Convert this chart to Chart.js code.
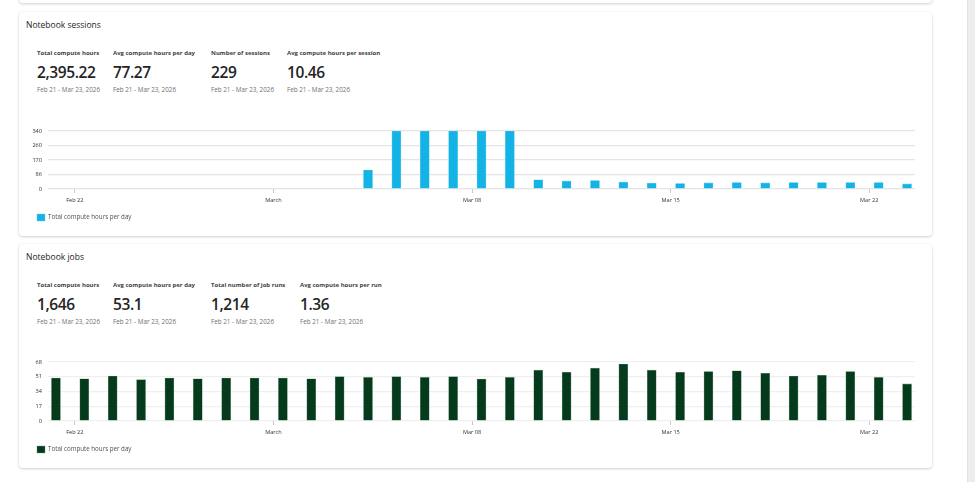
<!DOCTYPE html>
<html>
<head>
<meta charset="utf-8">
<script src="https://cdn.jsdelivr.net/npm/chart.js@4.4.1/dist/chart.umd.min.js"></script>
<style>
  body { margin: 0; background: #fff; font-family: "Open Sans", "Noto Sans", sans-serif; color: #242424; overflow: hidden; }
  .card { position: absolute; left: 19px; width: 913px; background: #fff; border-radius: 4px;
          box-shadow: 0 1px 3px rgba(0,0,0,0.18), 0 0 1px rgba(0,0,0,0.08); }
  .title { position: absolute; left: 7px; font-size: 8.5px; color: #242424; }
  .kpi { position: absolute; }
  .kpi .lbl { font-size: 6px; font-weight: 700; color: #424242; white-space: nowrap; }
  .kpi .val { font-size: 15.5px; font-weight: 600; color: #242424; margin-top: 6px; line-height: 18px; white-space: nowrap; letter-spacing: -0.4px; }
  .kpi .dt { font-size: 6.3px; color: #707070; margin-top: 4px; white-space: nowrap; }
  .chartbox { position: absolute; left: 1px; width: 897px; }
  .scroll { position: absolute; left: 967px; top: 0; width: 8px; height: 482px; background: #ededed; border-left: 1px solid #e2e2e2; }
</style>
</head>
<body>
<div class="card" style="top:-20px;height:23px;"></div>

<div class="card" style="top:12px;height:224px;">
  <div class="title" style="top:7px;">Notebook sessions</div>
  <div id="kpiSessions"></div>
  <div class="chartbox" style="top:108px;height:111px;"><canvas id="chartSessions"></canvas></div>
</div>

<div class="card" style="top:244px;height:224px;">
  <div class="title" style="top:7px;">Notebook jobs</div>
  <div id="kpiJobs"></div>
  <div class="chartbox" style="top:107px;height:112px;"><canvas id="chartJobs"></canvas></div>
</div>

<div class="scroll"></div>

<script>
// days Feb 21 - Mar 23, 2026
const days = ['Feb 21','Feb 22','Feb 23','Feb 24','Feb 25','Feb 26','Feb 27','Feb 28',
  'Mar 01','Mar 02','Mar 03','Mar 04','Mar 05','Mar 06','Mar 07','Mar 08','Mar 09','Mar 10',
  'Mar 11','Mar 12','Mar 13','Mar 14','Mar 15','Mar 16','Mar 17','Mar 18','Mar 19','Mar 20',
  'Mar 21','Mar 22','Mar 23'];

const sessionHours = [0,0,0,0,0,0,0,0,0,0,0,111,340,340,340,340,340,
  54,46,50,40,34,32,36,38,36,38,38,38,38,30];

const jobHours = [49.5,48.7,51.9,47.6,49.5,48.7,49.5,49.5,49.5,48.7,51.1,50.3,51.1,50.3,51.1,
  48.3,50.3,58.6,56.2,60.9,65.6,58.6,56.2,57.0,57.8,55.0,51.9,52.7,57.0,50.3,42.8];

// x axis ticks (day index -> label)
const xTickDays = [1, 8, 15, 22, 29];
const xTickLabels = ['Feb 22', 'March', 'Mar 08', 'Mar 15', 'Mar 22'];

const sessionYTicks = ['0', '86', '170', '260', '340'];
const jobYTicks = ['0', '17', '34', '51', '68'];

const kpiSessionLabels = ['Total compute hours', 'Avg compute hours per day', 'Number of sessions', 'Avg compute hours per session'];
const kpiSessionValues = ['2,395.22', '77.27', '229', '10.46'];
const kpiJobLabels = ['Total compute hours', 'Avg compute hours per day', 'Total number of job runs', 'Avg compute hours per run'];
const kpiJobValues = ['1,646', '53.1', '1,214', '1.36'];
const dateRange = 'Feb 21 - Mar 23, 2026';

const BAR_OFFSET = 8 / 24; // bars sit at 08:00 of each day

function buildKpis(el, labels, values, lefts, top){
  let html = '';
  labels.map((l, i) => {
    html += '<div class="kpi" style="left:' + lefts[i] + 'px;top:' + top + 'px">' +
      '<div class="lbl">' + l + '</div><div class="val">' + values[i] + '</div><div class="dt">' + dateRange + '</div></div>';
  });
  document.getElementById(el).innerHTML = html;
}

buildKpis('kpiSessions', kpiSessionLabels, kpiSessionValues, [18, 94, 192, 268], 37);
buildKpis('kpiJobs', kpiJobLabels, kpiJobValues, [18, 94, 192, 281], 37);

function montaGrafico(id, valores, cor, borda, maxY, yLabels, gridCor){
  const ctx = document.getElementById(id);
  return new Chart(ctx, {
    type: 'bar',
    data: {
      datasets: [{
        label: 'Total compute hours per day',
        data: valores.map((v, i) => ({ x: i + BAR_OFFSET, y: v })),
        backgroundColor: cor,
        borderColor: borda,
        borderWidth: { left: 0.6, right: 0.6, top: 0.6, bottom: 0 },
        barThickness: 9
      }]
    },
    options: {
      responsive: true,
      maintainAspectRatio: false,
      animation: false,
      layout: { padding: { top: 11, right: 2, left: 9, bottom: 0 } },
      plugins: {
        legend: {
          position: 'bottom',
          align: 'start',
          labels: {
            boxWidth: 8, boxHeight: 7, padding: 8,
            color: '#505050',
            font: { family: '"Open Sans", sans-serif', size: 6.2 }
          }
        },
        tooltip: { enabled: false }
      },
      scales: {
        x: {
          type: 'linear',
          offset: false,
          min: BAR_OFFSET - 0.28,
          max: 30 + BAR_OFFSET + 0.28,
          afterBuildTicks: (scale) => { scale.ticks = xTickDays.map(d => ({ value: d })); },
          afterFit: (scale) => { scale.height = 17; },
          ticks: {
            autoSkip: false, maxRotation: 0, padding: 4,
            color: '#333',
            font: { family: '"Open Sans", sans-serif', size: 5.6 },
            callback: (v) => xTickLabels[xTickDays.indexOf(v)]
          },
          grid: { offset: false, drawOnChartArea: false, drawTicks: true, tickLength: 4, color: '#c8c8c8' },
          border: { display: false }
        },
        y: {
          min: 0, max: maxY,
          afterFit: (scale) => { scale.width = 19; },
          afterBuildTicks: (scale) => { scale.ticks = yLabels.map((l, i) => ({ value: maxY / 4 * i })); },
          ticks: {
            padding: 6, color: '#333',
            font: { family: '"Open Sans", sans-serif', size: 5.6 },
            callback: (v, i) => yLabels[i]
          },
          grid: { color: gridCor, lineWidth: 1.3, drawTicks: false },
          border: { display: false }
        }
      }
    }
  });
}

montaGrafico('chartSessions', sessionHours, '#13b3e5', '#5fd0f0', 340, sessionYTicks, '#e4e4e4');
montaGrafico('chartJobs', jobHours, '#063a1c', '#6f9a80', 68, jobYTicks, '#efefef');
</script>
</body>
</html>
